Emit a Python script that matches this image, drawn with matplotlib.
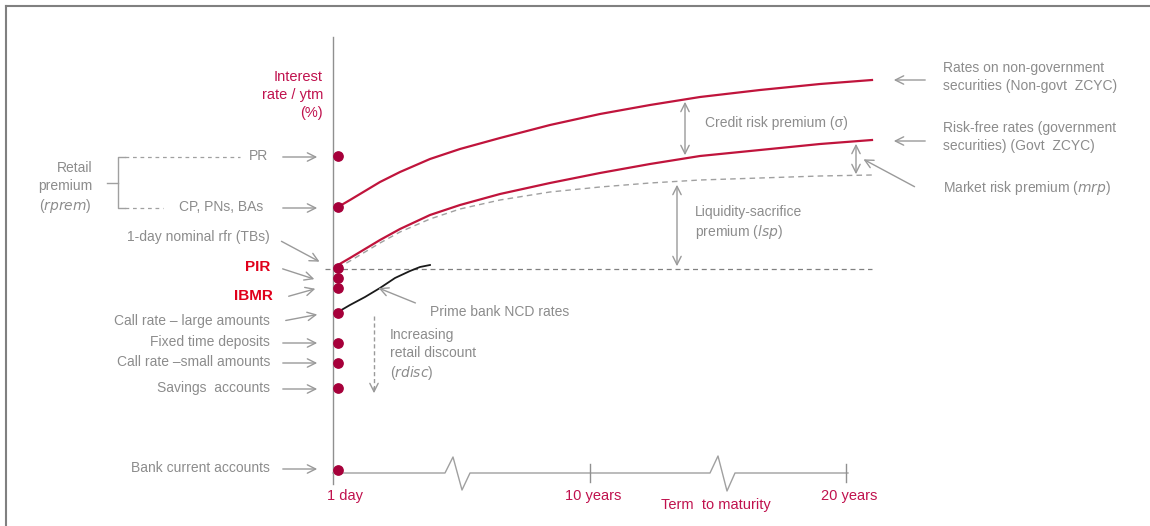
import matplotlib.pyplot as plt

plt.rcParams['font.family'] = ['Liberation Sans Narrow', 'Liberation Sans', 'DejaVu Sans']
plt.rcParams['font.size'] = 10
plt.rcParams['mathtext.fontset'] = 'custom'
plt.rcParams['mathtext.rm'] = 'Liberation Sans Narrow'
plt.rcParams['mathtext.it'] = 'Liberation Sans Narrow:italic'

# Diagram laid out in pixel units (x to the right, y downwards)
GREY = '#8c8c8c'
ARROW = '#9a9a9a'
CURVE = '#c0143c'
DOT = '#a6003a'
LABEL = '#c0124e'
BRIGHT = '#e0001b'

# yield curves: term position -> rate position
curve_x = [338, 350, 365, 380, 400, 430, 460, 500, 550, 600, 650, 700, 760, 820, 872]
nongovt_y = [207, 200, 191, 182, 172, 159, 149, 138, 125, 114, 105, 97, 90, 84, 80]
govt_y = [265, 258, 249, 240, 229, 215, 205, 194, 183, 173, 164, 156, 150, 144, 140]
liq_y = [268, 261, 252, 243, 232, 219, 209, 200, 192, 187, 183, 180, 178, 176, 175]
ncd_x = [338, 350, 365, 380, 395, 410, 420, 430]
ncd_y = [312, 305, 297, 288, 278, 271, 267, 265]

# one-day instruments
instruments = ['PR', 'CP, PNs, BAs', '1-day nominal rfr (TBs)', 'PIR', '', 'IBMR',
               'Call rate \u2013 large amounts', 'Fixed time deposits',
               'Call rate \u2013small amounts', 'Savings  accounts', 'Bank current accounts']
dot_y = [156, 207, None, 268, 278, 288, 313, 343, 363, 388, 470]
label_y = [156, 207, 237, 267, None, 296, 321, 342, 362, 388, 468]

# maturity axis
tick_x = [338, 590, 846]
tick_labels = ['1 day', '10 years', '20 years']

fig = plt.figure(figsize=(11.5, 5.26), dpi=100)
ax = fig.add_axes([0, 0, 1, 1])
ax.set_xlim(0, 1150)
ax.set_ylim(526, 0)
ax.axis('off')

# frame (top and left only)
ax.plot([6, 1150], [6, 6], color='#808080', lw=1.5)
ax.plot([6, 6], [6, 526], color='#808080', lw=1.5)

# axes of the diagram
ax.plot([333, 333], [37, 484], color='#909090', lw=1)
brk1 = [445, 453, 462, 470]
brk2 = [710, 718, 727, 735]
ax.plot([333, brk1[0], brk1[1], brk1[2], brk1[3], brk2[0], brk2[1], brk2[2], brk2[3], 848],
        [473, 473, 457, 490, 473, 473, 456, 491, 473, 473], color='#a0a0a0', lw=1)
for x in tick_x[1:]:
    ax.plot([x, x], [464, 482], color='#909090', lw=1)
for x, t in zip(tick_x, tick_labels):
    ax.text(x + 7 if t == '1 day' else x + 3, 496, t, color=LABEL, ha='center', va='center', fontsize=10.5)
ax.text(716, 505, 'Term  to maturity', color=LABEL, ha='center', va='center', fontsize=10.5)
ax.text(323, 95, 'Interest\nrate / ytm\n(%)', color=LABEL, ha='right', va='center',
        fontsize=10.5, linespacing=1.35)

# curves
ax.plot([325, 872], [269, 269], color='#808080', lw=0.9, ls=(0, (4, 3)))
ax.plot(curve_x, liq_y, color='#a0a0a0', lw=1, ls=(0, (4, 3)))
ax.plot(curve_x, nongovt_y, color=CURVE, lw=1.6)
ax.plot(curve_x, govt_y, color=CURVE, lw=1.6)
ax.plot(ncd_x, ncd_y, color='#1a1a1a', lw=1.3)

# dots
ax.scatter([338] * len([y for y in dot_y if y]), [y for y in dot_y if y], s=45, color=DOT, zorder=5)

arr = dict(arrowstyle='->', color=ARROW, lw=1, mutation_scale=15)
dbl = dict(arrowstyle='<->', color=ARROW, lw=1, mutation_scale=15)

# left labels with arrows
for name, y in zip(instruments, label_y):
    if not name:
        continue
    bold = name in ('PIR', 'IBMR')
    col = BRIGHT if bold else GREY
    xr = {'IBMR': 273, 'CP, PNs, BAs': 263, 'PR': 268}.get(name, 270)
    ax.text(xr, y, name, color=col, ha='right', va='center',
            fontweight='bold' if bold else 'normal', fontsize=11 if bold else 10)
    if name == '1-day nominal rfr (TBs)':
        ax.annotate('', xy=(322, 263), xytext=(279, 240), arrowprops=arr)
    elif name == 'PIR':
        ax.annotate('', xy=(317, 280), xytext=(280, 268), arrowprops=arr)
    elif name == 'IBMR':
        ax.annotate('', xy=(318, 288), xytext=(286, 297), arrowprops=arr)
    elif name.startswith('Call rate \u2013 large'):
        ax.annotate('', xy=(320, 314), xytext=(283, 321), arrowprops=arr)
    else:
        ax.annotate('', xy=(320, y + 1), xytext=(280, y + 1), arrowprops=arr)

# retail premium bracket
ax.plot([125, 240], [157, 157], color='#a0a0a0', lw=0.9, ls=(0, (3, 3)))
ax.plot([125, 163], [208, 208], color='#a0a0a0', lw=0.9, ls=(0, (3, 3)))
ax.plot([125, 118, 118, 125], [157, 157, 208, 208], color='#a0a0a0', lw=1)
ax.plot([107, 118], [183, 183], color='#a0a0a0', lw=1)
ax.text(92, 188, 'Retail\npremium\n($\\mathit{rprem}$)', color=GREY, ha='right', va='center',
        linespacing=1.3)

# NCD and retail discount
ax.text(430, 312, 'Prime bank NCD rates', color=GREY, ha='left', va='center')
ax.annotate('', xy=(376, 287), xytext=(418, 304), arrowprops=arr)
ax.plot([374, 374], [316, 392], color=ARROW, lw=1, ls=(0, (3, 2)))
ax.annotate('', xy=(374, 396), xytext=(374, 385),
            arrowprops=dict(arrowstyle='->', color=ARROW, lw=1, mutation_scale=15))
ax.text(390, 355, 'Increasing\nretail discount\n($\\mathit{rdisc}$)', color=GREY,
        ha='left', va='center', linespacing=1.3)

# premia between curves
ax.annotate('', xy=(685, 99), xytext=(685, 158), arrowprops=dbl)
ax.text(705, 123, 'Credit risk premium (\u03c3)', color=GREY, ha='left', va='center')
ax.annotate('', xy=(856, 141), xytext=(856, 177), arrowprops=dbl)
ax.annotate('', xy=(677, 182), xytext=(677, 269), arrowprops=dbl)
ax.text(695, 223, 'Liquidity-sacrifice\npremium ($\\mathit{lsp}$)', color=GREY,
        ha='left', va='center', linespacing=1.3)

# right labels
ax.annotate('', xy=(891, 80), xytext=(928, 80), arrowprops=arr)
ax.text(943, 77, 'Rates on non-government\nsecurities (Non-govt  ZCYC)', color=GREY,
        ha='left', va='center', linespacing=1.3)
ax.annotate('', xy=(891, 141), xytext=(928, 141), arrowprops=arr)
ax.text(943, 137, 'Risk-free rates (government\nsecurities) (Govt  ZCYC)', color=GREY,
        ha='left', va='center', linespacing=1.3)
ax.annotate('', xy=(861, 158), xytext=(917, 188), arrowprops=arr)
ax.text(943, 188, 'Market risk premium ($\\mathit{mrp}$)', color=GREY, ha='left', va='center')

fig.savefig('out.png', dpi=100)
